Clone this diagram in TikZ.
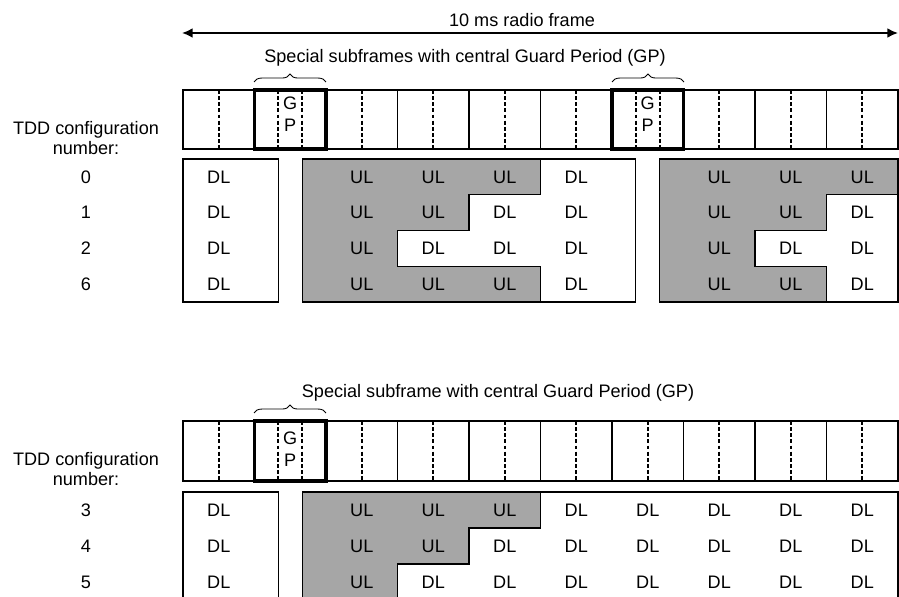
\documentclass[tikz,border=0pt]{standalone}
\usepackage{fontspec}
\setmainfont{Liberation Sans}
\usetikzlibrary{arrows.meta,decorations.pathreplacing}

\begin{document}
\begin{tikzpicture}[x=0.02cm,y=-0.02cm,
  lbl/.style={font=\fontsize{10.3}{11.4}\selectfont, inner sep=0pt},
  sfline/.style={line width=0.7pt},
  halfslot/.style={line width=1pt, dash pattern=on 2.2pt off 1.3pt},
  gpbox/.style={line width=1.8pt},
  ulfill/.style={fill=black!35, draw=black, line width=0.7pt},
  gpbrace/.style={decorate, decoration={brace, amplitude=4.5pt}, line width=0.5pt}]
\def\subw{71.5}
\useasboundingbox (0,0) rectangle (899,597);
\clip (0,0) rectangle (899,597);

% radio frame arrow
\coordinate (arrL) at (182,33);
\coordinate (arrR) at (898,33);
\draw[{Latex[length=6pt,width=5.5pt]}-{Latex[length=6pt,width=5.5pt]}, line width=1pt] (arrL) -- (arrR);
\node[lbl] (title) at (522,20) {10 ms radio frame};

% ---------------- upper half: configurations 0, 1, 2, 6
\node[lbl] (spTop) at (465,58) {Special subframes with central Guard Period (GP)};
\draw[gpbrace] (254,82) -- (326,82);
\draw[gpbrace] (612,82) -- (684,82);

% subframes
\draw[sfline] (183,90) rectangle (898,149);
\foreach \k in {1,...,9}
  \draw[sfline] ({183+\k*\subw},90) -- ++(0,59);
\foreach \k in {0,2,3,4,5,7,8,9}
  \draw[halfslot] ({183+(\k+0.5)*\subw},90) -- ++(0,59);
\foreach \k in {1,6} {
  \draw[halfslot] ({183+(\k+1/3)*\subw},90) -- ++(0,59);
  \draw[halfslot] ({183+(\k+2/3)*\subw},90) -- ++(0,59);
  \draw[gpbox] ({183+\k*\subw},90) rectangle ++(\subw,59);
  \node[lbl] (gT\k) at ({183+(\k+0.5)*\subw},103) {G};
  \node[lbl] (pT\k) at ({183+(\k+0.5)*\subw},125) {P};
}

\node[lbl,align=center] (tddT) at (86,138) {TDD configuration\\number:};

% DL/UL blocks
\draw[sfline] (183,159) rectangle (278.33,302);
\draw[ulfill] (302.17,159) -- (540.5,159) -- (540.5,194.75) -- (469,194.75)
  -- (469,230.5) -- (397.5,230.5) -- (397.5,266.25) -- (540.5,266.25)
  -- (540.5,302) -- (302.17,302) -- cycle;
\draw[sfline] (302.17,159) rectangle (635.8,302);
\draw[ulfill] (659.7,159) -- (898,159) -- (898,194.75) -- (826.5,194.75)
  -- (826.5,230.5) -- (755,230.5) -- (755,266.25) -- (826.5,266.25)
  -- (826.5,302) -- (659.7,302) -- cycle;
\draw[sfline] (659.7,159) rectangle (898,302);

\foreach \r/\cfg/\a/\b/\c/\d/\e/\f/\g in {0/0/UL/UL/UL/DL/UL/UL/UL,
    1/1/UL/UL/DL/DL/UL/UL/DL, 2/2/UL/DL/DL/DL/UL/DL/DL, 3/6/UL/UL/UL/DL/UL/UL/DL} {
  \node[lbl] (n\cfg) at (86,{159+(\r+0.5)*35.75}) {\cfg};
  \node[lbl] (c\cfg-0) at ({183+0.5*\subw},{159+(\r+0.5)*35.75}) {DL};
  \foreach \k/\t in {2/\a,3/\b,4/\c,5/\d,7/\e,8/\f,9/\g}
    \node[lbl] (c\cfg-\k) at ({183+(\k+0.5)*\subw},{159+(\r+0.5)*35.75}) {\t};
}

% ---------------- lower half: configurations 3, 4, 5
\node[lbl] (spBot) at (498,393) {Special subframe with central Guard Period (GP)};
\draw[gpbrace] (254,413) -- (326,413);

\draw[sfline] (183,421) rectangle (898,481);
\foreach \k in {1,...,9}
  \draw[sfline] ({183+\k*\subw},421) -- ++(0,60);
\foreach \k in {0,2,3,4,5,6,7,8,9}
  \draw[halfslot] ({183+(\k+0.5)*\subw},421) -- ++(0,60);
\draw[halfslot] ({183+(1+1/3)*\subw},421) -- ++(0,60);
\draw[halfslot] ({183+(1+2/3)*\subw},421) -- ++(0,60);
\draw[gpbox] (254.5,421) rectangle ++(\subw,60);
\node[lbl] (gB) at (290.25,438) {G};
\node[lbl] (pB) at (290.25,460) {P};

\node[lbl,align=center] (tddB) at (86,469) {TDD configuration\\number:};

\draw[sfline] (183,492) rectangle (278.33,600);
\draw[ulfill] (302.17,492) -- (540.5,492) -- (540.5,528) -- (469,528)
  -- (469,564) -- (397.5,564) -- (397.5,600) -- (302.17,600) -- cycle;
\draw[sfline] (302.17,492) rectangle (898,600);

\foreach \r/\cfg/\a/\b/\c in {0/3/UL/UL/UL, 1/4/UL/UL/DL, 2/5/UL/DL/DL} {
  \node[lbl] (n\cfg) at (86,{492+(\r+0.5)*36}) {\cfg};
  \node[lbl] (c\cfg-0) at ({183+0.5*\subw},{492+(\r+0.5)*36}) {DL};
  \foreach \k/\t in {2/\a,3/\b,4/\c,5/DL,6/DL,7/DL,8/DL,9/DL}
    \node[lbl] (c\cfg-\k) at ({183+(\k+0.5)*\subw},{492+(\r+0.5)*36}) {\t};
}
\end{tikzpicture}
\end{document}
